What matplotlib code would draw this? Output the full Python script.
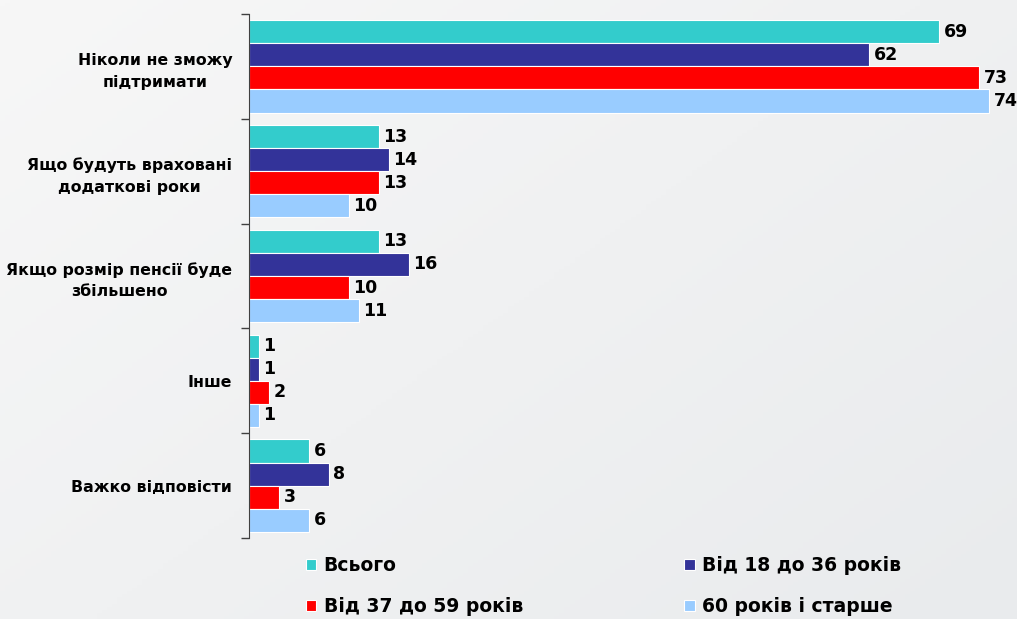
import numpy as np
import matplotlib.pyplot as plt

# data
categories = ['Ніколи не зможу\nпідтримати', 'Ящо будуть враховані\nдодаткові роки',
              'Якщо розмір пенсії буде\nзбільшено', 'Інше', 'Важко відповісти']
series_names = ['Всього', 'Від 18 до 36 років', 'Від 37 до 59 років', '60 років і старше']
total = [69, 13, 13, 1, 6]
age_18_36 = [62, 14, 16, 1, 8]
age_37_59 = [73, 13, 10, 2, 3]
age_60 = [74, 10, 11, 1, 6]
colors = ['#33CCCC', '#333399', '#FF0000', '#99CCFF']

values = [total, age_18_36, age_37_59, age_60]

fig = plt.figure(figsize=(10.17, 6.19), dpi=100)

# light gray gradient background
bg = fig.add_axes([0, 0, 1, 1], zorder=-10)
gx, gy = np.meshgrid(np.linspace(0, 1, 200), np.linspace(0, 1, 200))
grad = 0.55 * gx + 0.45 * gy
bg.imshow(grad, cmap=plt.matplotlib.colors.LinearSegmentedColormap.from_list(
    'bg', ['#f7f7f7', '#e9ebed']), aspect='auto', extent=[0, 1, 0, 1], origin='upper')
bg.axis('off')

ax = fig.add_axes([249 / 1017, 1 - 538 / 619, (1017 - 249) / 1017, (538 - 14) / 619])
ax.patch.set_alpha(0)

y = np.arange(len(categories))
h = 0.22
for k, (vals, name, col) in enumerate(zip(values, series_names, colors)):
    pos = y + (k - 1.5) * h
    bars = ax.barh(pos, vals, height=h, color=col, edgecolor='white', linewidth=0.8, label=name)
    for b, v in zip(bars, vals):
        ax.text(b.get_width() + 0.45, b.get_y() + b.get_height() / 2, str(v),
                va='center', ha='left', fontsize=12.5, fontweight='bold')

ax.set_xlim(0, 76.8)
ax.set_ylim(len(categories) - 0.5, -0.5)

ax.set_yticks(y)
ax.set_yticklabels(categories, fontsize=11.3, fontweight='bold', multialignment='center',
                   linespacing=1.55)
ax.tick_params(axis='y', which='major', length=0, pad=12)
ax.set_yticks(np.arange(-0.5, len(categories)), minor=True)
ax.tick_params(axis='y', which='minor', length=6, width=1, color='#404040')
ax.set_xticks([])
for s in ['top', 'right', 'bottom']:
    ax.spines[s].set_visible(False)
ax.spines['left'].set_color('#404040')

# legend in two rows, filled column-wise
handles, labels = ax.get_legend_handles_labels()
order = [0, 2, 1, 3]
fig.legend([handles[i] for i in order], [labels[i] for i in order],
           loc='center left', bbox_to_anchor=(289 / 1017, 1 - 586 / 619), ncol=2, frameon=False,
           prop={'size': 13.5, 'weight': 'bold'}, handlelength=0.55, handleheight=0.55,
           handletextpad=0.4, columnspacing=8.6, labelspacing=1.15)

fig.savefig('out.png', dpi=100)
